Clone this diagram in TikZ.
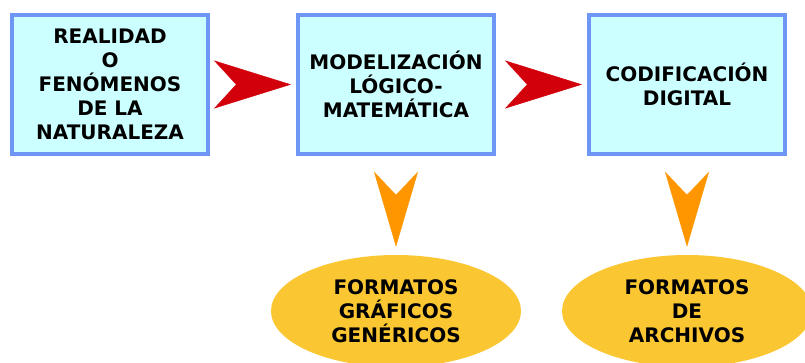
\documentclass[tikz,border=0pt]{standalone}
\usepackage{fontspec}
\setmainfont{DejaVu Sans}
\usetikzlibrary{arrows.meta, shapes.geometric}
\definecolor{boxfill}{RGB}{204,255,255}
\definecolor{boxline}{RGB}{110,150,245}
\definecolor{redtip}{RGB}{210,0,10}
\definecolor{orangetip}{RGB}{255,150,0}
\definecolor{ovalfill}{RGB}{250,198,50}
\tikzset{
    every node/.style = {align=center, font=\fontsize{15}{18}\selectfont\bfseries},
    stage/.style = {draw=boxline, fill=boxfill, line width=3pt, minimum width=147pt, minimum height=104.25pt, inner sep=0pt},
    result/.style = {ellipse, fill=ovalfill, minimum width=187.5pt, minimum height=84pt, inner sep=0pt},
    flow/.style = {redtip, line width=0.3pt, -{Stealth[length=57.75pt, width=36pt, inset=16.5pt]}, shorten >=3.75pt, shorten <=23.25pt},
    yields/.style = {orangetip, line width=0.3pt, -{Stealth[length=56.25pt, width=33pt, inset=17.25pt]}, shorten >=6pt, shorten <=30.75pt}
}

\begin{document}
\begin{tikzpicture}[x=0.75pt, y=-0.75pt]
    \useasboundingbox (0,0) rectangle (805,362);
    \node[stage] (real) at (110,84.5) {REALIDAD\\O\\FENÓMENOS\\DE LA\\NATURALEZA};
    \node[stage] (model) at (396,84.5) {MODELIZACIÓN\\LÓGICO-\\MATEMÁTICA};
    \node[stage] (cod) at (687,84.5) {CODIFICACIÓN\\DIGITAL};
    \node[result] (graf) at (396,311) {FORMATOS\\GRÁFICOS\\GENÉRICOS};
    \node[result] (arch) at (687,311) {FORMATOS\\DE\\ARCHIVOS};

    \draw[flow] (real) -- (model);
    \draw[flow] (model) -- (cod);
    \draw[yields] (model) -- (graf);
    \draw[yields] (cod) -- (arch);
\end{tikzpicture}
\end{document}
